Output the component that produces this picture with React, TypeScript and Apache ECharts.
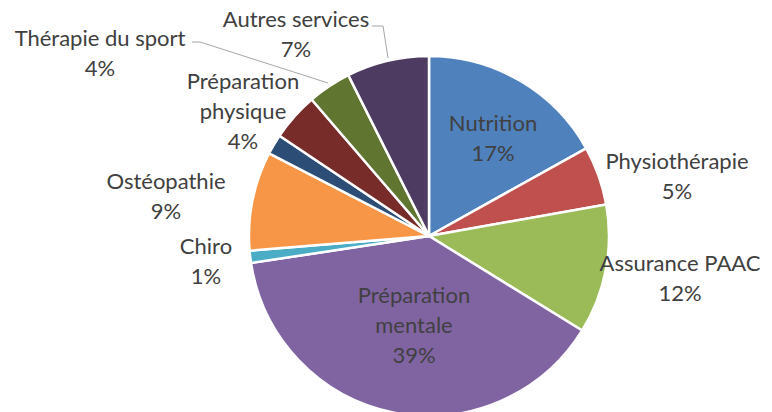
import React, { useEffect, useRef } from "react";
import * as echarts from "echarts";

const categories = [
  "Nutrition",
  "Physiothérapie",
  "Assurance PAAC",
  "Préparation mentale",
  "Chiro",
  "Ostéopathie",
  "Autre",
  "Préparation physique",
  "Thérapie du sport",
  "Autres services",
];
const values = [16.9, 5.3, 11.6, 38.8, 1.1, 8.9, 1.8, 4.3, 3.9, 7.4];
const colors = [
  "#4F81BD",
  "#C0504D",
  "#9BBB59",
  "#8064A2",
  "#4BACC6",
  "#F79646",
  "#2C4D75",
  "#772C2A",
  "#5F7530",
  "#4D3B62",
];
// label display names (line breaks as in the reference)
const labelNames = [
  "Nutrition",
  "Physiothérapie",
  "Assurance PAAC",
  "Préparation\nmentale",
  "Chiro",
  "Ostéopathie",
  "",
  "Préparation\nphysique",
  "Thérapie du sport",
  "Autres services",
];
const showLabel = [true, true, true, true, true, true, false, true, true, true];
const insideLabel = [true, false, false, true, false, false, false, false, false, false];

// layout: label centre positions
const labelPos: [number, number][] = [
  [493, 137],
  [677, 175],
  [680, 277],
  [414, 324],
  [206, 260],
  [166, 195],
  [0, 0],
  [243, 110],
  [100, 52],
  [296, 33],
];
const linePts: Record<number, [number, number][]> = {
  8: [
    [328, 83],
    [200, 42],
    [192, 42],
  ],
  9: [
    [388, 58],
    [383, 26],
    [372, 26],
  ],
};

export default function App() {
  const ref = useRef<HTMLDivElement>(null);
  useEffect(() => {
    if (!ref.current) return;
    const chart = echarts.init(ref.current, null, { renderer: "svg" });
    const data = categories.map((name, i) => ({
      name,
      value: values[i],
      itemStyle: { color: colors[i] },
      label: {
        show: showLabel[i],
        position: insideLabel[i] ? "inside" : "outside",
        formatter: (p: any) => `${labelNames[i]}\n${Math.round(p.percent)}%`,
      },
      labelLine: { show: !!linePts[i] },
    }));
    chart.setOption({
      animation: false,
      backgroundColor: "#ffffff",
      series: [
        {
          type: "pie",
          center: [429, 236],
          radius: 180,
          startAngle: 90,
          clockwise: true,
          avoidLabelOverlap: false,
          itemStyle: { borderColor: "#ffffff", borderWidth: 2.5 },
          label: {
            color: "#404040",
            fontFamily: "Lato, 'Liberation Sans', sans-serif",
            fontSize: 22,
            lineHeight: 30,
            align: "center",
          },
          labelLine: {
            show: false,
            lineStyle: { color: "#A6A6A6", width: 1 },
          },
          labelLayout: (params: any) => {
            const i = params.dataIndex;
            const [x, y] = labelPos[i];
            const res: any = { x, y, align: "center", verticalAlign: "middle" };
            if (linePts[i]) res.labelLinePoints = linePts[i];
            return res;
          },
          data,
        },
      ],
    });
    return () => chart.dispose();
  }, []);
  return (
    <div
      ref={ref}
      style={{ position: "fixed", left: 0, top: 0, width: 772, height: 412 }}
    />
  );
}
